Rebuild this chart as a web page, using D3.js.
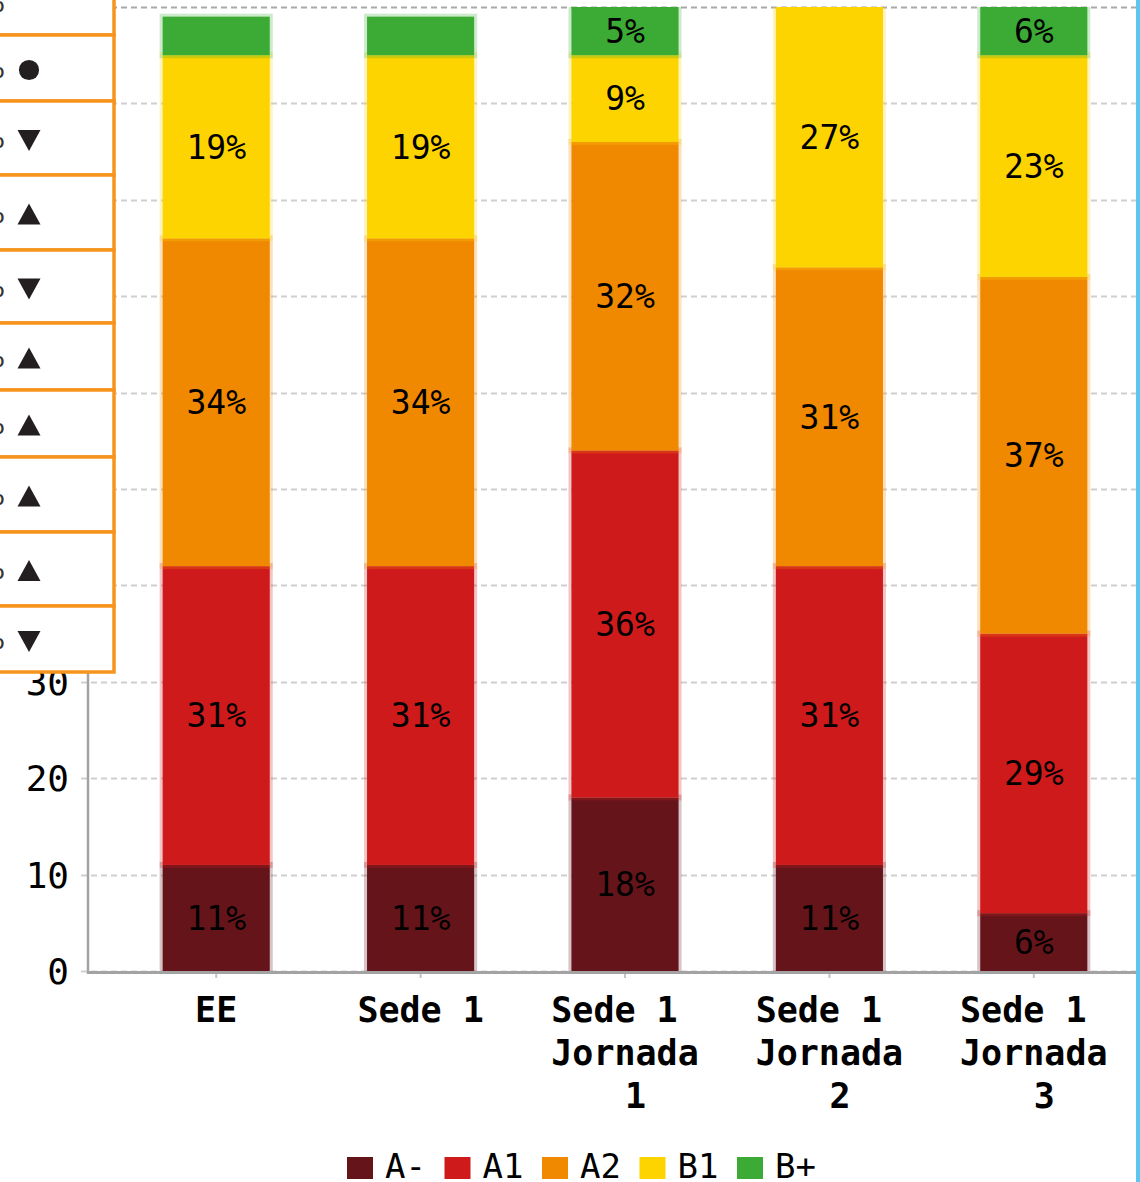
<!DOCTYPE html>
<html>
<head>
<meta charset="utf-8">
<script src="https://cdn.jsdelivr.net/npm/d3@7"></script>
<style>
  body { margin: 0; background: #fff; }
  svg { display: block; }
</style>
</head>
<body>
<svg width="1140" height="1182"></svg>
<script>
// categories (lines as they wrap under each bar)
let categories = ["EE", "Sede 1", "Sede 1 Jornada 1", "Sede 1 Jornada 2", "Sede 1 Jornada 3"];
let categoryLines = [["EE"], ["Sede 1"], ["Sede 1 ", "Jornada", " 1"], ["Sede 1 ", "Jornada", " 2"], ["Sede 1 ", "Jornada", " 3"]];

let levels = ["A-", "A1", "A2", "B1", "B+"];
let levelColors = ["#65151a", "#cf1a1c", "#f08800", "#fdd400", "#3cab35"];

// percentages per level, one value per category
let valuesAminus = [11, 11, 18, 11, 6];
let valuesA1 = [31, 31, 36, 31, 29];
let valuesA2 = [34, 34, 32, 31, 37];
let valuesB1 = [19, 19, 9, 27, 23];
let valuesBplus = [4, 4, 5, 0, 6];

let yTicks = [0, 10, 20, 30, 40, 50, 60, 70, 80, 90, 100];

// overlay table on the left (trend markers)
let trendMarks = ["", "circle", "down", "up", "down", "up", "up", "up", "up", "down"];
let tableRows = [-31, 35, 101, 175, 250, 323, 390, 457, 532, 606, 672];

let svg = d3.select("svg");
let mono = "'DejaVu Sans Mono', monospace";

let x = d3.scaleBand().domain(categories).range([114, 1136]).paddingInner(0.476).paddingOuter(0.238);
let y = d3.scaleLinear().domain([0, 100]).range([971, 7]);

let data = categories.map(function(c, i) {
    return {cat: c, A_: valuesAminus[i], A1: valuesA1[i], A2: valuesA2[i], B1: valuesB1[i], Bp: valuesBplus[i]};
});
let keys = ["A_", "A1", "A2", "B1", "Bp"];
let stack = d3.stack().keys(keys)(data);

// clip to plot area
svg.append("defs").append("clipPath").attr("id", "plot")
    .append("rect").attr("x", 80).attr("y", 7).attr("width", 1060).attr("height", 970);

// gridlines
let grid = svg.append("g");
grid.selectAll("line").data(yTicks).enter().append("line")
    .attr("x1", 81).attr("x2", 1136)
    .attr("y1", function(d) { return Math.round(y(d)) + 0.5; })
    .attr("y2", function(d) { return Math.round(y(d)) + 0.5; })
    .attr("stroke", function(d) { return d === 100 ? "#a8a8a8" : "#cfcfcf"; })
    .attr("stroke-width", 2)
    .attr("stroke-dasharray", "6,4");

// bars
let bars = svg.append("g").attr("clip-path", "url(#plot)");
stack.forEach(function(layer, li) {
    bars.append("g").selectAll("rect").data(layer).enter().append("rect")
        .attr("x", function(d) { return x(d.data.cat); })
        .attr("width", x.bandwidth())
        .attr("y", function(d) { return y(d[1]); })
        .attr("height", function(d) { return Math.max(0, y(d[0]) - y(d[1])); })
        .attr("fill", levelColors[li])
        .attr("stroke", levelColors[li])
        .attr("stroke-opacity", function(d) { return d[1] > d[0] ? 0.25 : 0; })
        .attr("stroke-width", 6);
});

// segment labels
stack.forEach(function(layer) {
    bars.append("g").selectAll("text").data(layer.filter(function(d) { return d[1] - d[0] >= 5; }))
        .enter().append("text")
        .attr("x", function(d) { return x(d.data.cat) + x.bandwidth() / 2; })
        .attr("y", function(d) { return (y(Math.min(d[1], 100)) + y(d[0])) / 2; })
        .attr("dy", "0.36em")
        .attr("text-anchor", "middle")
        .style("font", "33px " + mono)
        .attr("fill", "#000")
        .text(function(d) { return (d[1] - d[0]) + "%"; });
});

// y axis
let yAxis = svg.append("g");
yAxis.append("line").attr("x1", 88).attr("x2", 88).attr("y1", 7).attr("y2", 974)
    .attr("stroke", "#a3a3a3").attr("stroke-width", 2.5);
yAxis.selectAll("text").data(yTicks).enter().append("text")
    .attr("x", 69).attr("y", function(d) { return y(d); })
    .attr("dy", "0.36em")
    .attr("text-anchor", "end")
    .style("font", "36px " + mono)
    .attr("fill", "#000")
    .text(function(d) { return d; });

// x axis
let xAxis = svg.append("g");
xAxis.append("line").attr("x1", 87).attr("x2", 1136).attr("y1", 972.5).attr("y2", 972.5)
    .attr("stroke", "#a3a3a3").attr("stroke-width", 3);
xAxis.selectAll("line.tick").data(categories).enter().append("line").attr("class", "tick")
    .attr("x1", function(d) { return x(d) + x.bandwidth() / 2; })
    .attr("x2", function(d) { return x(d) + x.bandwidth() / 2; })
    .attr("y1", 974).attr("y2", 978)
    .attr("stroke", "#c4c4c4").attr("stroke-width", 2);
let xl = xAxis.selectAll("text").data(categories).enter().append("text")
    .attr("text-anchor", "middle")
    .attr("xml:space", "preserve")
    .style("font", "bold 35px " + mono)
    .attr("fill", "#000");
xl.each(function(d, i) {
    let t = d3.select(this);
    categoryLines[i].forEach(function(line, j) {
        t.append("tspan")
            .attr("x", x(d) + x.bandwidth() / 2)
            .attr("y", 1022 + j * 43)
            .text(line);
    });
});

// legend
let legend = svg.append("g").selectAll("g").data(levels).enter().append("g")
    .attr("transform", function(d, i) { return "translate(" + (347 + i * 97.5) + ",1157)"; });
legend.append("rect").attr("width", 26).attr("height", 22)
    .attr("fill", function(d, i) { return levelColors[i]; });
legend.append("text").attr("x", 38).attr("y", 21)
    .style("font", "34px " + mono).attr("fill", "#000")
    .text(function(d) { return d; });

// right border
svg.append("rect").attr("x", 1136).attr("y", 0).attr("width", 4).attr("height", 1182).attr("fill", "#5ec6ee");

// overlay table
let table = svg.append("g");
table.append("rect").attr("x", -10).attr("y", -10).attr("width", 124).attr("height", 682).attr("fill", "#fff");
let rows = table.selectAll("g").data(trendMarks).enter().append("g");
rows.append("rect")
    .attr("x", -10).attr("width", 124)
    .attr("y", function(d, i) { return tableRows[i]; })
    .attr("height", function(d, i) { return tableRows[i + 1] - tableRows[i]; })
    .attr("fill", "#fff").attr("stroke", "#f7941d").attr("stroke-width", 3.5);
rows.append("text")
    .attr("x", 5).attr("y", function(d, i) { return (tableRows[i] + tableRows[i + 1]) / 2; })
    .attr("dy", "0.36em").attr("text-anchor", "end")
    .style("font", "28px 'DejaVu Sans', sans-serif").attr("fill", "#333")
    .text("%");
rows.append("path")
    .attr("transform", function(d, i) { return "translate(29," + ((tableRows[i] + tableRows[i + 1]) / 2 + 2) + ")"; })
    .attr("fill", "#231f20")
    .attr("d", function(d) {
        if (d === "circle") return d3.symbol(d3.symbolCircle, 320)();
        if (d === "up") return "M0,-11L11.5,10L-11.5,10Z";
        if (d === "down") return "M-11.5,-10L11.5,-10L0,11Z";
        return null;
    });
</script>
</body>
</html>
